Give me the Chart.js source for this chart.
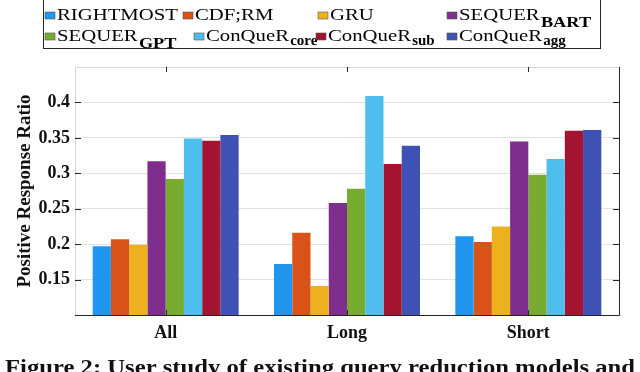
<!DOCTYPE html>
<html>
<head>
<meta charset="utf-8">
<script src="https://cdn.jsdelivr.net/npm/chart.js@4"></script>
<style>
  html, body { margin: 0; padding: 0; background: #fff; }
  #wrap { width: 640px; height: 372px; position: relative; }
</style>
</head>
<body>
<div id="wrap"><canvas id="chart" width="640" height="372"></canvas></div>
<script>
// ---- data ----
const categories  = ['All', 'Long', 'Short'];
const seriesNames = ['RIGHTMOST', 'CDF;RM', 'GRU', 'SEQUER', 'SEQUER', 'ConQueR', 'ConQueR', 'ConQueR'];
const seriesSubs  = ['', '', '', 'BART', 'GPT', 'core', 'sub', 'agg'];
const seriesColors = ['#2196f0', '#d95319', '#edb120', '#7e2f8e', '#77ac30', '#4dbeee', '#a2142f', '#3f51b5'];

const rightmost = [0.197, 0.172, 0.211];
const cdfRm     = [0.207, 0.216, 0.203];
const gru       = [0.199, 0.141, 0.225];
const sequerBart = [0.317, 0.258, 0.345];
const sequerGpt  = [0.292, 0.278, 0.298];
const conquerCore = [0.349, 0.409, 0.320];
const conquerSub  = [0.346, 0.313, 0.360];
const conquerAgg  = [0.354, 0.339, 0.361];
const seriesValues = [rightmost, cdfRm, gru, sequerBart, sequerGpt, conquerCore, conquerSub, conquerAgg];

const yTicks = [0.15, 0.2, 0.25, 0.3, 0.35, 0.4];
const captionText = 'Figure 2: User study of existing query reduction models and';

const SERIF = '"Liberation Serif", "Times New Roman", serif';

// ---- legend + frame + caption, drawn on the canvas ----
const legendSlots = [
  [45, 20], [183, 20], [318, 20], [447, 20],
  [45, 41], [194, 41], [316, 41], [447, 41]
];

const decorations = {
  id: 'decorations',
  afterDraw(chart) {
    const { ctx, chartArea: a, scales } = chart;
    ctx.save();

    // frame: light top/left, dark right/bottom (matlab-ish)
    ctx.lineWidth = 1;
    ctx.strokeStyle = '#d6d6d6';
    ctx.beginPath();
    ctx.moveTo(a.left + 0.5, a.bottom); ctx.lineTo(a.left + 0.5, a.top + 0.5);
    ctx.lineTo(a.right, a.top + 0.5);
    ctx.stroke();
    ctx.strokeStyle = '#262626';
    ctx.beginPath();
    ctx.moveTo(a.left, a.bottom + 0.5); ctx.lineTo(a.right + 0.5, a.bottom + 0.5);
    ctx.lineTo(a.right + 0.5, a.top);
    ctx.stroke();

    // inward tick marks
    ctx.beginPath();
    yTicks.forEach(v => {
      const y = Math.round(scales.y.getPixelForValue(v)) + 0.5;
      ctx.moveTo(a.left, y); ctx.lineTo(a.left + 6, y);
      ctx.moveTo(a.right, y); ctx.lineTo(a.right - 6, y);
    });
    categories.forEach((c, i) => {
      const x = Math.round(scales.x.getPixelForValue(i)) + 0.5;
      ctx.moveTo(x, a.top); ctx.lineTo(x, a.top + 5);
      ctx.moveTo(x, a.bottom); ctx.lineTo(x, a.bottom - 5);
    });
    ctx.stroke();

    // legend box
    ctx.strokeStyle = '#262626';
    ctx.strokeRect(43.5, -0.5, 557, 49);
    const sx = 1.22;
    seriesNames.forEach((name, i) => {
      const [x, y] = legendSlots[i];
      ctx.fillStyle = seriesColors[i];
      ctx.fillRect(x, y - 8, 10, 7);
      ctx.strokeStyle = '#555';
      ctx.lineWidth = 0.6;
      ctx.strokeRect(x, y - 8, 10, 7);
      ctx.fillStyle = '#000';
      ctx.font = '17px ' + SERIF;
      ctx.textBaseline = 'alphabetic';
      ctx.save();
      ctx.translate(x + 12, y);
      ctx.scale(sx, 1);
      ctx.fillText(name, 0, 0);
      const w = ctx.measureText(name).width;
      const sub = seriesSubs[i];
      if (sub) {
        const caps = sub === sub.toUpperCase();
        const k = caps ? 1 : 1 / sx;
        ctx.font = 'bold 15px ' + SERIF;
        ctx.scale(k, 1);
        ctx.fillText(sub, (w + 1) / k, caps ? 7 : 4);
      }
      ctx.restore();
    });

    // caption (cut off at the bottom, like the source)
    ctx.fillStyle = '#111';
    ctx.font = 'bold 20px ' + SERIF;
    const cw = ctx.measureText(captionText).width;
    ctx.save();
    ctx.translate(5, 374);
    ctx.scale(630 / cw, 1);
    ctx.fillText(captionText, 0, 0);
    ctx.restore();

    ctx.restore();
  }
};

const datasets = seriesNames.map((n, i) => ({
  label: n + (seriesSubs[i] ? '_' + seriesSubs[i] : ''),
  data: seriesValues[i],
  backgroundColor: seriesColors[i],
  borderWidth: 0,
  categoryPercentage: 0.805,
  barPercentage: 1.0
}));

new Chart(document.getElementById('chart').getContext('2d'), {
  type: 'bar',
  data: { labels: categories, datasets },
  options: {
    responsive: false,
    animation: false,
    layout: { padding: { left: 0, top: 67, right: 21, bottom: 0 } },
    plugins: { legend: { display: false }, tooltip: { enabled: false } },
    scales: {
      x: {
        grid: { display: false, drawTicks: false },
        border: { display: false },
        ticks: { color: '#111', font: { family: SERIF, size: 18, weight: 'bold' }, padding: 8 },
        afterFit: s => { s.height = 57; }
      },
      y: {
        min: 0.1,
        max: 0.45,
        afterBuildTicks: s => { s.ticks = [0.1, ...yTicks, 0.45].map(v => ({ value: v })); },
        grid: { color: '#e2e2e2', lineWidth: 1, drawTicks: false },
        border: { display: false },
        ticks: {
          color: '#111',
          font: { family: SERIF, size: 18, weight: 'bold' },
          padding: 5,
          callback: v => (v < 0.12 || v > 0.44) ? '' : String(+v.toFixed(2))
        },
        title: {
          display: true,
          text: 'Positive Response Ratio',
          color: '#111',
          font: { family: SERIF, size: 19, weight: 'bold' },
          padding: { top: 14, bottom: 0 }
        },
        afterFit: s => { s.width = 75; }
      }
    }
  },
  plugins: [decorations]
});
</script>
</body>
</html>
